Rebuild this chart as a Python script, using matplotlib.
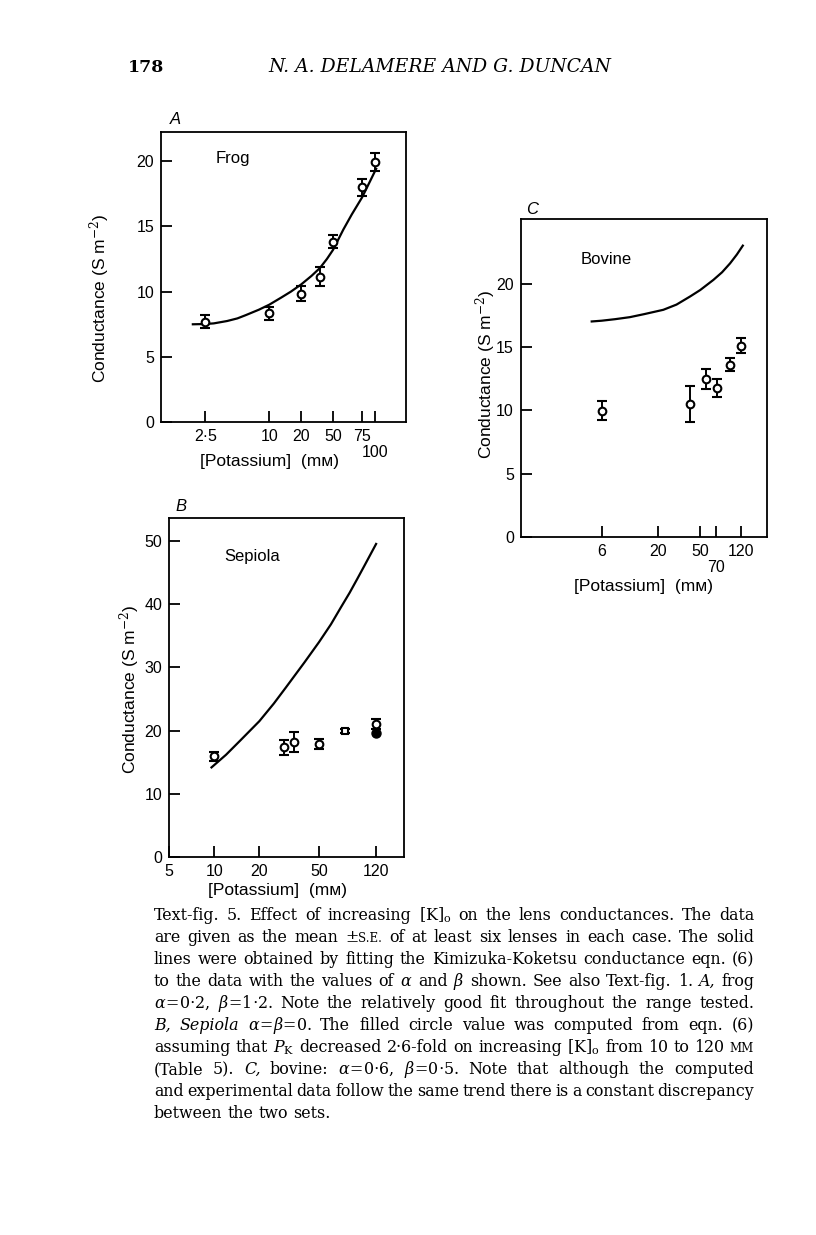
import matplotlib
matplotlib.use("Agg")
import matplotlib.pyplot as plt
from matplotlib.transforms import IdentityTransform

W, H = 816, 1235

# ---------------- data ----------------
# Panel A (frog)
a_k = [2.5, 10, 20, 30, 40, 75, 100]
a_g = [7.7, 8.35, 9.85, 11.15, 13.8, 18.0, 19.9]
a_err = [0.5, 0.5, 0.55, 0.7, 0.5, 0.65, 0.7]
a_fit_k = [1.9, 2.5, 3.0, 4.0, 5.0, 6.0, 8.0, 10, 13, 16, 20, 25, 30, 35, 40, 50, 60, 75, 90, 102]
a_fit_g = [7.50, 7.52, 7.57, 7.75, 7.95, 8.2, 8.62, 9.0, 9.55, 10.0, 10.55, 11.2, 11.8,
           12.5, 13.2, 14.75, 15.9, 17.2, 18.5, 19.4]
a_ticks = [2.5, 10, 20, 40, 75, 100]
a_ticklabels = ["2·5", "10", "20", "50", "75", "\n100"]
a_yticks = [0, 5, 10, 15, 20]

# Panel B (Sepiola)
b_k = [10, 29, 34, 50, 120]
b_g = [15.95, 17.4, 18.2, 17.9, 21.1]
b_err = [0.7, 1.2, 1.6, 0.8, 0.8]
b_sq_k = [75]
b_sq_g = [20.0]
b_sq_err = [0.3]
b_filled_k = [120]
b_filled_g = [19.65]
b_fit_k = [9.6, 12, 15, 20, 25, 30, 40, 50, 60, 70, 80, 90, 100, 120]
b_fit_g = [14.2, 16.2, 18.5, 21.5, 24.3, 26.8, 30.8, 34.0, 36.8, 39.5, 41.8, 44.0, 46.0, 49.5]
b_ticks = [5, 10, 20, 50, 120]
b_ticklabels = ["5", "10", "20", "50", "120"]
b_yticks = [0, 10, 20, 30, 40, 50]

# Panel C (bovine)
c_k = [6, 40, 57, 72, 95, 120]
c_g = [9.97, 10.5, 12.47, 11.8, 13.6, 15.1]
c_err = [0.75, 1.4, 0.8, 0.7, 0.5, 0.6]
c_fit_k = [4.84, 6, 8, 11, 15, 22.6, 30, 40.2, 50, 66.4, 80, 95, 110, 125]
c_fit_g = [17.02, 17.08, 17.2, 17.36, 17.6, 17.94, 18.35, 18.99, 19.5, 20.3, 20.9, 21.6, 22.3, 23.0]
c_ticks = [6, 20, 50, 70, 120]
c_ticklabels = ["6", "20", "50", "\n70", "120"]
c_yticks = [0, 5, 10, 15, 20]

SANS = ["Liberation Sans", "DejaVu Sans"]
SERIF = "DejaVu Serif"
plt.rcParams["font.family"] = SANS
plt.rcParams["mathtext.fontset"] = "dejavuserif"

fig = plt.figure(figsize=(W / 100, H / 100), dpi=100)

TICK_FS = 11.5
LABEL_FS = 12.5


def rect(l, t, r, b):
    return [l / W, 1 - b / H, (r - l) / W, (b - t) / H]


def ftext(px, py, s, **kw):
    return fig.text(px / W, 1 - py / H, s, **kw)


def style_axes(ax):
    for sp in ax.spines.values():
        sp.set_linewidth(1.3)
    ax.tick_params(axis="both", direction="in", length=8, width=1.3,
                   labelsize=TICK_FS, pad=5, top=False, right=False)
    ax.minorticks_off()


def set_xticks(ax, ticks, labels):
    ax.set_xticks(ticks)
    ax.set_xticklabels([("" if l.startswith("\n") else l) for l in labels])
    for t, l in zip(ticks, labels):
        if l.startswith("\n"):
            ax.annotate(l.strip(), xy=(t, 0), xycoords=("data", "axes fraction"),
                        xytext=(0, -16), textcoords="offset points",
                        ha="center", va="top", fontsize=TICK_FS)


def data_points(ax, k, g, err, marker="o", ms=5.5, filled=False):
    ax.errorbar(k, g, yerr=err, fmt=marker, ms=ms, mfc="black" if filled else "white",
                mec="black", mew=1.5, ecolor="black", elinewidth=1.4,
                capsize=3.5, capthick=1.6, zorder=3)


LBL = "[Potassium]  (mᴍ)"
YLBL = "Conductance (S m$^{-2}$)"

# ---------------- Panel A ----------------
axA = fig.add_axes(rect(161, 132.3, 405.7, 422.3))
axA.set_xscale("log")
axA.plot(a_fit_k, a_fit_g, color="black", lw=1.6, zorder=2)
data_points(axA, a_k, a_g, a_err)
axA.set_xlim(0.951, 193.8)
axA.set_ylim(0, 22.19)
set_xticks(axA, a_ticks, a_ticklabels)
axA.set_yticks(a_yticks)
style_axes(axA)
ftext(233, 158, "Frog", fontsize=12, ha="center", va="center")
ftext(175, 119, "A", fontsize=12, style="italic", ha="center", va="center")
ftext(269, 462, LBL, fontsize=LABEL_FS, ha="center", va="center")
ftext(100, 298, YLBL, fontsize=LABEL_FS, rotation=90, ha="center", va="center")

# ---------------- Panel B ----------------
axB = fig.add_axes(rect(169, 518.3, 404.3, 857.3))
axB.set_xscale("log")
axB.plot(b_fit_k, b_fit_g, color="black", lw=1.6, zorder=2)
data_points(axB, b_k, b_g, b_err)
data_points(axB, b_sq_k, b_sq_g, b_sq_err, marker="s", ms=5)
axB.plot(b_filled_k, b_filled_g, "o", ms=6.5, color="black", zorder=4)
axB.set_xlim(5, 185)
axB.set_ylim(0, 53.55)
set_xticks(axB, b_ticks, b_ticklabels)
axB.set_yticks(b_yticks)
style_axes(axB)
ftext(252, 556, "Sepiola", fontsize=12, ha="center", va="center")
ftext(181, 507, "B", fontsize=12, style="italic", ha="center", va="center")
ftext(277, 891, LBL, fontsize=LABEL_FS, ha="center", va="center")
ftext(130, 689, YLBL, fontsize=LABEL_FS, rotation=90, ha="center", va="center")

# ---------------- Panel C ----------------
axC = fig.add_axes(rect(520.7, 219, 766.7, 537.3))
axC.set_xscale("log")
axC.plot(c_fit_k, c_fit_g, color="black", lw=1.6, zorder=2)
data_points(axC, c_k, c_g, c_err)
axC.set_xlim(1.05, 209)
axC.set_ylim(0, 25.1)
set_xticks(axC, c_ticks, c_ticklabels)
axC.set_yticks(c_yticks)
style_axes(axC)
ftext(606, 259, "Bovine", fontsize=12, ha="center", va="center")
ftext(532, 210, "C", fontsize=12, style="italic", ha="center", va="center")
ftext(644, 586, LBL, fontsize=LABEL_FS, ha="center", va="center")
ftext(486, 374, YLBL, fontsize=LABEL_FS, rotation=90, ha="center", va="center")

# ---------------- Header ----------------
ftext(146, 67, "178", family=SERIF, fontsize=12.5, weight="bold", ha="center", va="center")
ftext(440, 67, "N. A. DELAMERE AND G. DUNCAN", family=SERIF, fontsize=13.5,
      style="italic", ha="center", va="center")

# ---------------- Caption ----------------
caption_lines = [
    "Text-fig. 5. Effect of increasing [K]$_\\mathrm{o}$ on the lens conductances. The data",
    "are given as the mean ±|^S.E. of at least six lenses in each case. The solid",
    "lines were obtained by fitting the Kimizuka-Koketsu conductance eqn. (6)",
    "to the data with the values of $\\alpha$ and $\\beta$ shown. See also Text-fig. 1. ~A, frog",
    "$\\alpha\\!=\\!0{\\cdot}2$, $\\beta\\!=\\!1{\\cdot}2$. Note the relatively good fit throughout the range tested.",
    "~B, ~Sepiola $\\alpha\\!=\\!\\beta\\!=\\!0$. The filled circle value was computed from eqn. (6)",
    "assuming that $P_\\mathrm{K}$ decreased 2·6-fold on increasing [K]$_\\mathrm{o}$ from 10 to 120 ^MM",
    "(Table 5). ~C, bovine: $\\alpha\\!=\\!0{\\cdot}6$, $\\beta\\!=\\!0{\\cdot}5$. Note that although the computed",
    "and experimental data follow the same trend there is a constant discrepancy",
    "between the two sets.",
]

CAP_X0, CAP_X1 = 154, 754
CAP_Y0, CAP_DY = 915, 22.0
renderer = fig.canvas.get_renderer()


def build_line(line, size):
    items = []
    for w in line.split(" "):
        ts = []
        for p in w.split("|"):
            kw = dict(fontsize=size, family=SERIF)
            if p.startswith("^"):
                p = p[1:]
                kw["fontsize"] = size * 0.74
            if p.startswith("~"):
                p = p[1:]
                kw["style"] = "italic"
            t = fig.text(0, 0, p, transform=IdentityTransform(), ha="left", va="baseline", **kw)
            ts.append(t)
        items.append(ts)
    return items


def measure(items):
    return [[t.get_window_extent(renderer).width for t in ts] for ts in items]


base = 10.0
built = [build_line(l, base) for l in caption_lines]
space = 0.32 * base * 100 / 72
need = [sum(sum(w) for w in measure(it)) + 0.55 * space * (len(it) - 1) for it in built[:-1]]
factor = (CAP_X1 - CAP_X0) / max(need)
size = base * factor
for it in built:
    for ts in it:
        for t in ts:
            t.set_fontsize(t.get_fontsize() * factor)
space = 0.32 * size * 100 / 72

for i, it in enumerate(built):
    widths = measure(it)
    wsum = sum(sum(w) for w in widths)
    last = i == len(built) - 1
    gap = space if (last or len(it) < 2) else (CAP_X1 - CAP_X0 - wsum) / (len(it) - 1)
    x = CAP_X0
    yb = H - (CAP_Y0 + 5 + i * CAP_DY)
    for ts, ws in zip(it, widths):
        xx = x
        for t, w in zip(ts, ws):
            t.set_position((xx, yb))
            xx += w
        x = xx + gap

fig.savefig("out.png", dpi=100)
